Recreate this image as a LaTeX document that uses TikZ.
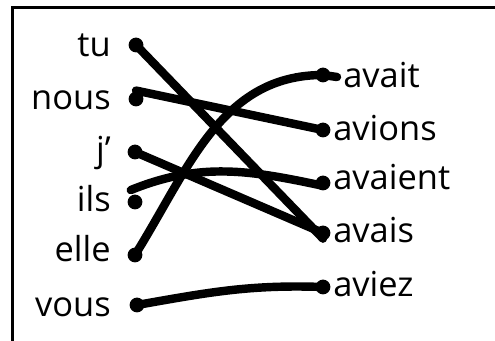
\documentclass[tikz,border=0pt]{standalone}
\usepackage{fontspec}
\setmainfont{Open Sans}

\tikzset{
  dot/.style={circle,fill,inner sep=0,minimum size=0.37cm},
  link/.style={line width=6pt,line cap=round},
  word/.style={inner sep=0}
}

\begin{document}
\begin{tikzpicture}[font=\fontsize{24.5}{30}\selectfont]
\useasboundingbox (0,0) rectangle (12.375,8.525);
\draw[line width=2pt] (0.31,0) -- (0.31,8.34) -- (12.375,8.34);
% pronouns
\node[word,anchor=base east] (tu) at (2.775,7.1) {tu};
\node[word,anchor=base east] (nous) at (2.775,5.775) {nous};
\node[word,anchor=base east] (je) at (2.775,4.475) {j’};
\node[word,anchor=base east] (ils) at (2.775,3.225) {ils};
\node[word,anchor=base east] (elle) at (2.775,1.975) {elle};
\node[word,anchor=base east] (vous) at (2.775,0.6) {vous};
% verb forms
\node[word,anchor=base west] (avait) at (8.575,6.325) {avait};
\node[word,anchor=base west] (avions) at (8.325,5.0) {avions};
\node[word,anchor=base west] (avaient) at (8.325,3.775) {avaient};
\node[word,anchor=base west] (avais) at (8.325,2.45) {avais};
\node[word,anchor=base west] (aviez) at (8.325,1.1) {aviez};
% dots
\foreach \n/\x/\y in {tu/3.40/7.40,nous/3.40/6.05,je/3.375/4.725,ils/3.375/3.475,elle/3.375/2.15,vous/3.425/0.90,
  avait/8.075/6.65,avions/8.075/5.275,avaient/8.075/3.95,avais/8.075/2.70,aviez/8.075/1.35}
  {\node[dot] (p\n) at (\x,\y) {};}
% links
\draw[link] (ptu.center) -- ([yshift=-4pt]pavais.center);
\draw[link] ([yshift=6pt]pnous.center) -- (pavions.center);
\draw[link] (pje.center) -- (pavais.center);
\draw[link] ([xshift=-3pt,yshift=8.5pt]pils.center) to[out=22,in=168] ([yshift=-2pt]pavaient.center);
\draw[link] (pelle.center) to[out=58,in=180] (pavait.center) -- ++(0.35,-0.05);
\draw[link] (pvous.center) to[out=10,in=178] (paviez.center);
\end{tikzpicture}
\end{document}
